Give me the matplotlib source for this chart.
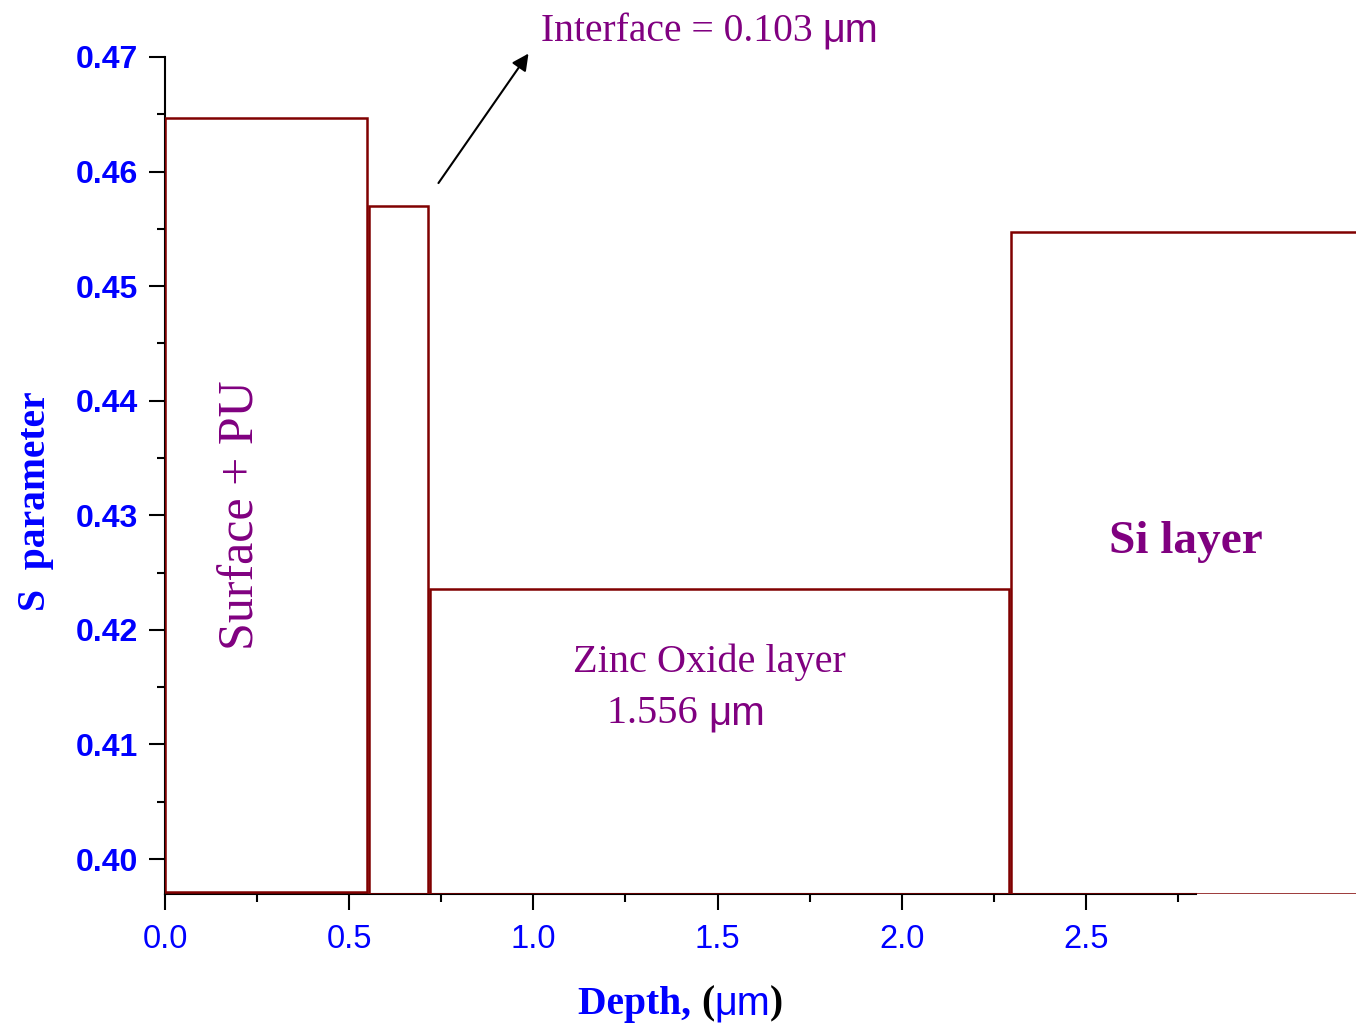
import matplotlib.pyplot as plt
from matplotlib.ticker import MultipleLocator

# layer boundaries along depth (um) and S parameter of each layer
layer_names = ['Surface + PU', 'Interface', 'Zinc Oxide layer', 'Si layer']
layer_start = [0.0, 0.554, 0.719, 2.296]
layer_end = [0.548, 0.714, 2.291, 3.30]
s_param = [0.4647, 0.4570, 0.4236, 0.4547]
s_base = [0.3971, 0.39695, 0.39695, 0.39695]

dark_red = '#800000'
purple = '#800080'
serif = 'Liberation Serif'
sans = 'Liberation Sans'

fig = plt.figure(figsize=(13.56, 10.27), dpi=100, facecolor='w')
ax = fig.add_axes([165 / 1356, 133 / 1027, 1 - 165 / 1356, 837 / 1027])

for x0, x1, top, base in zip(layer_start, layer_end, s_param, s_base):
    ax.bar(x0, top - base, width=x1 - x0, bottom=base, align='edge',
           facecolor='none', edgecolor=dark_red, linewidth=1.8, zorder=3)

ax.set_xlim(0, 3.233)
ax.set_ylim(0.39695, 0.47)

for side in ['top', 'right']:
    ax.spines[side].set_visible(False)
for side in ['left', 'bottom']:
    ax.spines[side].set_linewidth(1.5)
ax.spines['bottom'].set_bounds(0, 2.8)

ax.set_xticks([0.0, 0.5, 1.0, 1.5, 2.0, 2.5])
ax.set_xticks([0.25, 0.75, 1.25, 1.75, 2.25, 2.75], minor=True)
ax.set_xticklabels(['0.0', '0.5', '1.0', '1.5', '2.0', '2.5'])
ax.set_yticks([0.40, 0.41, 0.42, 0.43, 0.44, 0.45, 0.46, 0.47])
ax.yaxis.set_minor_locator(MultipleLocator(0.005))
ax.set_yticklabels(['0.40', '0.41', '0.42', '0.43', '0.44', '0.45', '0.46', '0.47'])

ax.tick_params(which='major', length=11.5, width=1.5, direction='out')
ax.tick_params(which='minor', length=5.8, width=1.5, direction='out')
ax.tick_params(axis='x', which='major', pad=10, labelsize=23.5, labelcolor='blue')
ax.tick_params(axis='y', which='major', pad=8, labelsize=23, labelcolor='blue')
for lab in ax.get_xticklabels():
    lab.set_fontfamily(sans)
for lab in ax.get_yticklabels():
    lab.set_fontfamily(sans)
    lab.set_fontweight('bold')

# y label
ax.text(-0.109, 0.4695, 'S  parameter', transform=ax.transAxes, rotation=90,
        ha='center', va='center', fontsize=28.5, fontweight='bold',
        family=serif, color='blue')

# x label pieces with mixed colours and fonts
t = ax.text(0.3468, -0.143, 'Depth, ', transform=ax.transAxes, ha='left',
            va='baseline', fontsize=28.5, fontweight='bold', family=serif,
            color='blue')
t = ax.annotate('(', xy=(1, 0), xycoords=t, ha='left', va='bottom',
                fontsize=28.5, fontweight='bold', family=serif, color='black')
t = ax.annotate('\u03bcm', xy=(1, 0), xycoords=t, ha='left', va='bottom',
                fontsize=28.5, family=sans, color='blue')
ax.annotate(')', xy=(1, 0), xycoords=t, ha='left', va='bottom',
            fontsize=28.5, fontweight='bold', family=serif, color='black')

# layer labels
ax.text(0.208, 0.430, 'Surface + PU', rotation=90, ha='center', va='center',
        fontsize=36, family=serif, color=purple)
ax.text(1.478, 0.4172, 'Zinc Oxide layer', ha='center', va='center',
        fontsize=29, family=serif, color=purple)
t = ax.text(1.20, 0.4127, '1.556 ', ha='left', va='center',
            fontsize=29, family=serif, color=purple)
ax.annotate('\u03bcm', xy=(1, 0), xycoords=t, ha='left', va='bottom',
            fontsize=29, family=sans, color=purple)
ax.text(2.771, 0.4277, 'Si layer', ha='center', va='center',
        fontsize=34, fontweight='bold', family=serif, color=purple)

# interface callout
ax.annotate('', xy=(0.991, 0.4705), xytext=(0.738, 0.4588),
            arrowprops=dict(arrowstyle='-|>', color='black', lw=1.5,
                            mutation_scale=25), annotation_clip=False)
t = ax.text(1.02, 0.4714, 'Interface = 0.103 ', ha='left', va='baseline',
            fontsize=28.5, family=serif, color=purple, clip_on=False)
ax.annotate('\u03bcm', xy=(1, 0), xycoords=t, ha='left', va='bottom',
            fontsize=28.5, family=sans, color=purple, annotation_clip=False)

plt.savefig('out.png', dpi=100)
plt.close()
